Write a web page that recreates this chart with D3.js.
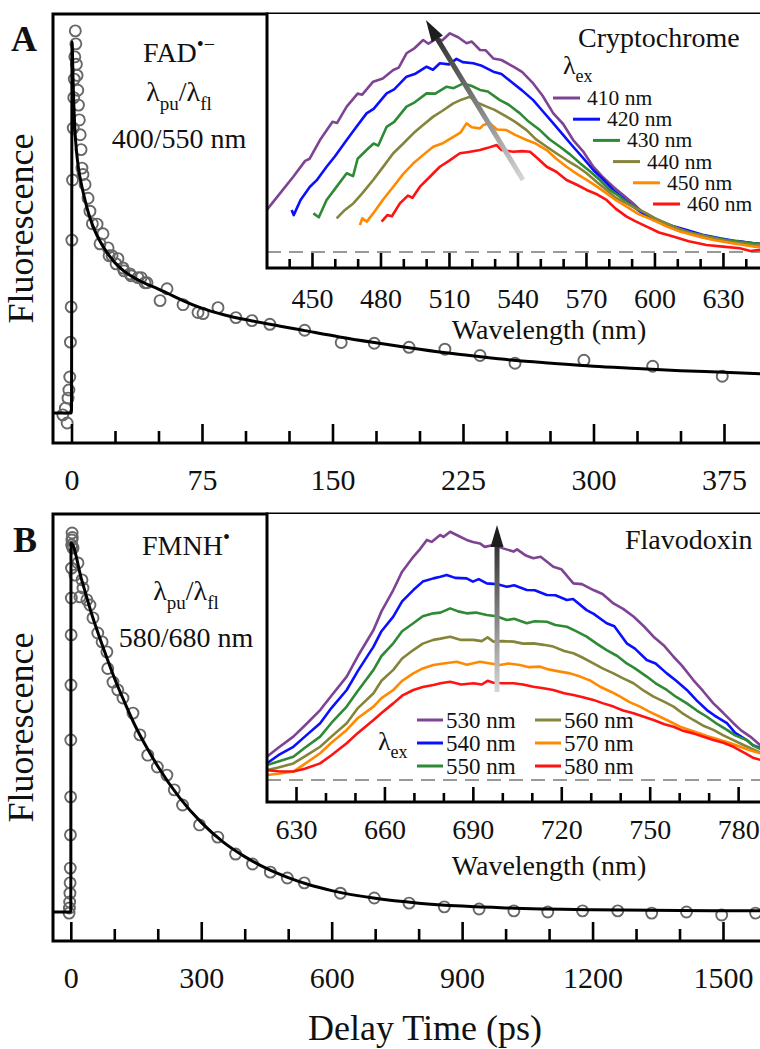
<!DOCTYPE html>
<html>
<head>
<meta charset="utf-8">
<script src="https://d3js.org/d3.v7.min.js"></script>
<style>
  body { margin: 0; background: #fff; }
  svg text { font-family: "Liberation Serif", "Times New Roman", serif; fill: #111; }
</style>
</head>
<body>
<svg id="chart" width="760" height="1049" font-family="Liberation Serif, serif"></svg>
<script>
// ---- panel A : FAD radical anion decay (ps, normalised fluorescence) ----
const decayA = [[-5,-0.005],[-3.5,0.013],[-2.5,-0.027],[-2,0.04],[-1.5,0.062],[-1,0.097],[-0.6,0.191],[-0.2,0.286],
  [0.2,0.466],[0.6,0.628],[1,0.768],[1.3,0.85],[1.6,0.9],[1.9,0.96],[2.2,1.03],[2.5,0.995],[2.8,0.94],[3.2,0.91],
  [3.6,0.87],[4,0.83],[4.5,0.79],[5,0.75],[5.5,0.71],[6,0.66],[6.6,0.643],[7.8,0.616],[9.5,0.579],[10.6,0.544],
  [12,0.51],[14.7,0.509],[16.4,0.456],[18.1,0.483],[21,0.445],[21.6,0.424],[23.3,0.424],[25.6,0.402],[26.7,0.416],
  [29.6,0.391],[30.2,0.383],[33.6,0.375],[34.2,0.37],[38.2,0.365],[40,0.365],[42.2,0.351],[43.4,0.351],[50.9,0.303],
  [54.9,0.335],[64.1,0.292],[72.7,0.271],[75.6,0.268],[84.2,0.284],[94.5,0.257],[103.7,0.249],[114,0.239],[134,0.223],
  [155,0.19],[174,0.188],[194,0.177],[214.6,0.172],[234.8,0.155],[254.9,0.134],[294.5,0.142],[334,0.126],[374,0.099]];
const fitA = [[-12,0],[0,0],[0.3,1.0],[1,0.88],[2,0.76],[3,0.7],[4,0.66],[6,0.61],[8,0.57],[10,0.535],[12.4,0.503],
  [15,0.475],[18,0.45],[22,0.422],[26,0.4],[30,0.383],[35,0.367],[42,0.35],[50,0.334],[55,0.323],[64,0.303],[74,0.284],
  [88,0.264],[104,0.248],[120,0.234],[134,0.222],[154,0.205],[174,0.19],[194,0.176],[214,0.163],[234,0.152],[254,0.142],
  [276,0.134],[300,0.126],[325,0.12],[350,0.114],[375,0.11],[400,0.105]];
const ticksA = [0, 75, 150, 225, 300, 375];
const minorA = [25, 50, 100, 125, 175, 200, 250, 275, 325, 350];

// ---- panel B : FMNH radical decay ----
const decayB = [[-4,-0.003],[-3.2,0.011],[-2.6,0.027],[-2,0.051],[-1.6,0.079],[-1.2,0.119],[-0.8,0.209],[-0.4,0.312],
  [0,0.466],[0.4,0.615],[0.8,0.751],[1.2,0.851],[1.6,0.932],[2,0.995],[2.5,1.008],[3,1.027],[3.5,1.015],[4,0.99],
  [5,0.986],[9.6,0.913],[16.5,0.946],[21,0.854],[25.7,0.9],[28,0.878],[37,0.846],[44,0.832],[51,0.797],[62,0.756],
  [72,0.732],[83,0.705],[85,0.66],[97,0.623],[108,0.602],[120,0.58],[143,0.539],[159,0.48],[177,0.425],[199,0.393],
  [221,0.371],[238,0.331],[257,0.29],[296,0.236],[338,0.203],[379,0.157],[418,0.13],[459,0.108],[498,0.092],[537,0.079],
  [620,0.051],[698,0.038],[778,0.024],[859,0.014],[939,0.008],[1019,0.003],[1097,0.0],[1177,0.003],[1258,0.003],
  [1336,-0.003],[1416,0.0],[1497,-0.008],[1575,-0.003]];
const fitB = [[-45,0],[0,0],[0.5,1.0],[25,0.9],[50,0.8],[75,0.715],[100,0.635],[125,0.565],[150,0.5],[175,0.445],
  [200,0.395],[250,0.31],[300,0.243],[350,0.19],[400,0.15],[450,0.118],[500,0.093],[550,0.073],[600,0.058],[700,0.037],
  [800,0.024],[900,0.016],[1000,0.011],[1200,0.006],[1400,0.004],[1600,0.003]];
const ticksB = [0, 300, 600, 900, 1200, 1500];
const minorB = [100, 200, 400, 500, 700, 800, 1000, 1100, 1300, 1400];

// ---- inset A : cryptochrome emission spectra ----
const cryptoEx = ["410 nm", "420 nm", "430 nm", "440 nm", "450 nm", "460 nm"];
const crypto410 = [[430.2,0.194],[436,0.27],[441.8,0.347],[447,0.42],[449,0.43],[453.5,0.516],[459,0.6],[461,0.595],
  [465.2,0.67],[470,0.73],[472,0.725],[476.8,0.785],[481,0.8],[485.6,0.839],[488,0.85],[491.4,0.916],[495,0.94],
  [498.7,0.977],[501,0.96],[504.6,0.985],[507,0.975],[510.4,1.008],[514,0.99],[517.7,0.962],[520,0.97],[523.6,0.931],
  [526,0.93],[529.4,0.892],[533,0.885],[538.2,0.854],[542,0.83],[546.9,0.777],[551,0.72],[555.7,0.639],[560,0.59],
  [564.4,0.516],[569,0.46],[573.2,0.393],[577,0.35],[581.9,0.301],[586,0.265],[590.7,0.224],[595,0.18],[599.5,0.147],
  [604,0.13],[609.7,0.101],[614,0.09],[619.9,0.071],[625,0.06],[631.6,0.047],[637,0.05],[643.3,0.04],[648,0.035]];
const crypto420 = [[441.1,0.194],[442,0.17],[445,0.24],[449.1,0.301],[452,0.33],[456.4,0.393],[460,0.44],[465.2,0.516],
  [469,0.57],[473.9,0.639],[477,0.66],[482.7,0.731],[486,0.75],[491.4,0.808],[495,0.82],[500.2,0.854],[503,0.84],
  [506,0.87],[510,0.865],[513.3,0.89],[516,0.875],[520.6,0.87],[524,0.86],[529.4,0.831],[533,0.82],[538.2,0.777],
  [542,0.745],[546.9,0.7],[551,0.65],[555.7,0.593],[560,0.54],[564.4,0.485],[569,0.43],[573.2,0.378],[577,0.34],
  [581.9,0.286],[586,0.25],[590.7,0.209],[596,0.17],[602.4,0.14],[608,0.12],[614.1,0.101],[621,0.08],[628.7,0.063],
  [636,0.05],[643.3,0.04],[648,0.036]];
const crypto430 = [[450.6,0.178],[453,0.16],[456.4,0.24],[460,0.29],[465.2,0.363],[468,0.35],[470,0.43],[473.9,0.47],
  [477,0.5],[479,0.49],[482.7,0.577],[486,0.6],[491.4,0.67],[495,0.69],[500.2,0.731],[504,0.73],[509,0.762],[512,0.755],
  [516.3,0.777],[520,0.765],[523.6,0.747],[527,0.74],[532.3,0.7],[536,0.68],[541.1,0.639],[545,0.6],[549.8,0.562],
  [554,0.52],[558.6,0.485],[563,0.45],[567.4,0.409],[572,0.37],[576.1,0.332],[580,0.29],[584.9,0.255],[589,0.22],
  [593.6,0.194],[599,0.16],[605.3,0.132],[611,0.105],[617,0.086],[624,0.07],[631.6,0.055],[637,0.048],[643.3,0.04],
  [648,0.036]];
const crypto440 = [[460.8,0.155],[464,0.19],[468.1,0.224],[472,0.27],[476.8,0.332],[481,0.39],[485.6,0.455],[490,0.5],
  [494.4,0.547],[498,0.58],[503.1,0.624],[507,0.65],[511.9,0.685],[515,0.7],[519.2,0.716],[522,0.69],[526.5,0.67],
  [530,0.655],[535.2,0.624],[539,0.6],[544,0.562],[548,0.52],[552.8,0.485],[557,0.455],[561.5,0.424],[566,0.395],
  [570.3,0.363],[575,0.32],[579,0.286],[583,0.25],[587.8,0.224],[592,0.2],[596.6,0.178],[602,0.145],[608.2,0.117],
  [615,0.09],[622.8,0.071],[632,0.05],[643.3,0.032],[648,0.03]];
const crypto450 = [[471,0.124],[472,0.155],[474,0.14],[476.8,0.178],[481,0.24],[485.6,0.301],[490,0.36],[494.4,0.409],
  [499,0.45],[503.1,0.485],[507,0.5],[511.9,0.531],[515,0.55],[517.7,0.593],[520,0.575],[523.6,0.57],[525,0.585],
  [527.9,0.593],[531,0.565],[535.2,0.562],[539,0.54],[544,0.516],[548,0.5],[552.8,0.47],[557,0.43],[561.5,0.393],
  [566,0.36],[570.3,0.332],[575,0.3],[579,0.27],[583,0.24],[587.8,0.209],[593,0.175],[599.5,0.147],[605,0.12],
  [611.2,0.094],[618,0.075],[625.8,0.055],[634,0.04],[643.3,0.025],[648,0.022]];
const crypto460 = [[480.5,0.14],[483,0.17],[485,0.165],[488.5,0.224],[492,0.26],[494,0.25],[497.3,0.301],[501,0.34],
  [506,0.393],[510,0.42],[514.8,0.455],[518,0.46],[523.6,0.47],[527,0.48],[530.9,0.493],[533,0.47],[538.2,0.462],
  [542,0.465],[545.5,0.462],[549,0.43],[552.8,0.393],[557,0.37],[561.5,0.332],[566,0.31],[570.3,0.286],[575,0.265],
  [579,0.24],[583,0.2],[587.8,0.163],[592,0.14],[596.6,0.117],[602,0.09],[608.2,0.071],[615,0.05],[622.8,0.032],
  [630,0.025],[637.4,0.017],[642,0.005],[648,0.012]];
const cryptoTicks = [450, 480, 510, 540, 570, 600, 630];
const cryptoMinor = [440, 460, 470, 490, 500, 520, 530, 550, 560, 580, 590, 610, 620, 640];

// ---- inset B : flavodoxin emission spectra ----
const flavoEx = ["530 nm", "540 nm", "550 nm", "560 nm", "570 nm", "580 nm"];
const flavo530 = [[620.1,0.094],[624,0.13],[629.1,0.175],[633,0.22],[638.2,0.282],[642,0.34],[647.2,0.417],
  [651,0.5],[656.3,0.605],[659,0.68],[663,0.766],[666,0.84],[669.8,0.9],[672,0.93],[674.4,0.968],[676,0.96],
  [678.9,0.988],[680,0.98],[682.3,1.001],[685,0.985],[687.9,0.968],[690,0.96],[692.4,0.954],[694,0.94],[697,0.948],
  [700,0.935],[703.8,0.921],[705,0.93],[708,0.905],[710.5,0.894],[713,0.9],[717.3,0.86],[720,0.85],[724.1,0.793],
  [727,0.79],[730.9,0.766],[734,0.75],[737.7,0.712],[741,0.69],[744.5,0.659],[748,0.62],[751.3,0.578],[755,0.54],
  [758.1,0.497],[761,0.46],[764.8,0.403],[768,0.36],[771.6,0.309],[775,0.27],[778.4,0.229],[781,0.2],[784.1,0.175],
  [788.5,0.13]];
const flavo540 = [[620.1,0.067],[624,0.1],[629.1,0.134],[633,0.175],[638.2,0.229],[642,0.29],[647.2,0.363],
  [651,0.44],[656.3,0.538],[659,0.6],[663,0.659],[666,0.72],[669.8,0.766],[673,0.8],[676.6,0.813],[679,0.82],
  [681.1,0.827],[684,0.815],[687.9,0.813],[690,0.8],[692,0.81],[694.7,0.793],[698,0.79],[701.5,0.779],[704,0.785],
  [708.3,0.766],[711,0.765],[715.1,0.746],[718,0.745],[721.9,0.726],[724,0.73],[728.6,0.685],[731,0.67],[735.4,0.632],
  [738,0.62],[742.2,0.551],[745,0.53],[749,0.484],[752,0.47],[755.8,0.43],[759,0.4],[762.6,0.363],[766,0.32],
  [769.4,0.282],[772,0.26],[776.2,0.229],[779,0.19],[782.9,0.161],[785,0.14],[788.5,0.125]];
const flavo550 = [[620.1,0.06],[624,0.075],[629.1,0.094],[633,0.13],[638.2,0.175],[642,0.23],[647.2,0.296],
  [651,0.36],[656.3,0.444],[659,0.5],[663,0.551],[666,0.6],[669.8,0.632],[673,0.66],[676.6,0.672],[679,0.675],
  [682.3,0.692],[685,0.68],[687.9,0.672],[691,0.675],[694.7,0.665],[698,0.66],[701.5,0.645],[704,0.65],[708.3,0.632],
  [711,0.64],[715.1,0.638],[718,0.625],[721.9,0.618],[725,0.6],[728.6,0.578],[732,0.55],[735.4,0.524],[739,0.5],
  [742.2,0.47],[745,0.45],[749,0.417],[752,0.39],[755.8,0.363],[759,0.335],[762.6,0.309],[766,0.28],[769.4,0.255],
  [773,0.225],[776.2,0.202],[779,0.18],[782.9,0.161],[785,0.14],[788.5,0.12]];
const flavo560 = [[620.1,0.04],[624,0.05],[629.1,0.067],[633,0.095],[638.2,0.134],[642,0.175],[647.2,0.229],
  [651,0.29],[656.3,0.35],[659,0.4],[663,0.444],[666,0.49],[669.8,0.524],[673,0.55],[676.6,0.565],[679,0.57],
  [682.3,0.578],[686,0.565],[690.2,0.565],[693,0.56],[695,0.575],[697,0.558],[700,0.56],[703.8,0.558],[707,0.55],
  [710.5,0.551],[714,0.545],[717.3,0.538],[721,0.52],[724.1,0.511],[727,0.495],[730.9,0.47],[734,0.45],[737.7,0.43],
  [741,0.41],[744.5,0.39],[748,0.36],[751.3,0.336],[755,0.315],[758.1,0.296],[761,0.27],[764.8,0.242],[768,0.22],
  [771.6,0.202],[775,0.18],[778.4,0.161],[782,0.14],[788.5,0.105]];
const flavo570 = [[620.1,0.02],[624,0.025],[629.1,0.034],[633,0.065],[638.2,0.108],[642,0.15],[647.2,0.202],
  [651,0.25],[656.3,0.296],[659,0.33],[663,0.363],[666,0.4],[669.8,0.43],[673,0.45],[676.6,0.464],[680,0.47],
  [684.5,0.477],[688,0.465],[692.4,0.477],[696,0.47],[699.2,0.464],[702,0.47],[706,0.464],[709,0.455],[712.8,0.457],
  [716,0.445],[719.6,0.437],[723,0.43],[726.4,0.417],[730,0.4],[733.2,0.376],[737,0.355],[740,0.336],[743,0.315],
  [746.7,0.296],[750,0.275],[753.5,0.255],[757,0.235],[760.3,0.215],[764,0.2],[767.1,0.188],[770,0.175],[773.9,0.161],
  [777,0.15],[780.7,0.134],[784,0.12],[788.5,0.105]];
const flavo580 = [[620.1,0.04],[624,0.035],[629.1,0.034],[633,0.045],[638.2,0.067],[642,0.1],[647.2,0.148],
  [651,0.19],[656.3,0.242],[659,0.27],[663,0.309],[666,0.34],[669.8,0.363],[673,0.375],[676.6,0.383],[679,0.39],
  [682.3,0.396],[686,0.385],[690.2,0.39],[693,0.385],[695,0.4],[697,0.392],[700,0.39],[703.8,0.39],[707,0.385],
  [710.5,0.376],[714,0.37],[717.3,0.363],[721,0.35],[724.1,0.343],[727,0.335],[730.9,0.323],[734,0.31],[737.7,0.296],
  [741,0.28],[744.5,0.269],[748,0.255],[751.3,0.242],[755,0.225],[758.1,0.215],[761,0.2],[764.8,0.188],[768,0.175],
  [771.6,0.161],[775,0.15],[778.4,0.134],[782,0.11],[785,0.09],[788.5,0.078]];
const flavoTicks = [630, 660, 690, 720, 750, 780];
const flavoMinor = [640, 650, 670, 680, 700, 710, 730, 740, 760, 770];

const specColors = ["#7f4393", "#0a10ff", "#2f8a35", "#84843a", "#ff8a00", "#ff1212"];
const serif = "Liberation Serif, Times New Roman, serif";

const svg = d3.select("#chart");
const defs = svg.append("defs");

function ticks(g, x, y0, major, minor, majLen, minLen, pad, fs) {
  g.append("g").attr("transform", `translate(0,${y0})`)
    .call(d3.axisBottom(x).tickValues(minor).tickSizeInner(-minLen).tickSizeOuter(0).tickFormat(""))
    .call(a => a.select(".domain").remove())
    .call(a => a.selectAll("line").attr("stroke", "#000").attr("stroke-width", 2.6));
  g.append("g").attr("transform", `translate(0,${y0})`)
    .call(d3.axisBottom(x).tickValues(major).tickFormat(d3.format("d"))
      .tickSizeInner(-majLen).tickSizeOuter(0).tickPadding(pad))
    .attr("font-family", serif)
    .call(a => a.select(".domain").remove())
    .call(a => a.selectAll("line").attr("stroke", "#000").attr("stroke-width", 2.6))
    .call(a => a.selectAll("text").attr("font-size", fs).attr("font-family", serif));
}

function mainPanel(p) {
  const g = svg.append("g");
  const x = d3.scaleLinear().domain(p.xDom).range([p.left, p.right]);
  const y = d3.scaleLinear().domain(p.yDom).range([p.bottom, p.top]);
  defs.append("clipPath").attr("id", "clip" + p.id).append("rect")
    .attr("x", p.left).attr("y", p.top).attr("width", p.right - p.left).attr("height", p.bottom - p.top);
  const plot = g.append("g").attr("clip-path", `url(#clip${p.id})`);
  plot.append("g").selectAll("circle").data(p.data).join("circle")
    .attr("cx", d => x(d[0])).attr("cy", d => y(d[1])).attr("r", 5.5)
    .attr("fill", "none").attr("stroke", "#686868").attr("stroke-width", 1.9);
  plot.append("path").datum(p.fit)
    .attr("d", d3.line().x(d => x(d[0])).y(d => y(d[1])).curve(d3.curveMonotoneX))
    .attr("fill", "none").attr("stroke", "#000").attr("stroke-width", 3);
  ticks(g, x, p.bottom, p.major, p.minor, 19, 12, 26, 30);
  g.append("path").attr("d", `M${p.left},${p.bottom}H${p.right}M${p.left},${p.bottom}V${p.top}H${p.right}`)
    .attr("fill", "none").attr("stroke", "#000").attr("stroke-width", 3).attr("stroke-linecap", "square");
  g.append("text").attr("transform", `translate(33,${(p.top + p.bottom) / 2}) rotate(-90)`)
    .attr("text-anchor", "middle").attr("font-size", 36).attr("font-family", serif).text("Fluorescence");
  g.append("text").attr("x", p.letterX).attr("y", p.letterY).attr("font-size", 36)
    .attr("font-family", serif).attr("font-weight", "bold").text(p.letter);
  return g;
}

function inset(p) {
  const g = svg.append("g");
  const x = d3.scaleLinear().domain(p.xDom).range([p.left, p.right]);
  const y = d3.scaleLinear().domain(p.yDom).range([p.bottom, p.top]);
  g.append("rect").attr("x", p.left).attr("y", p.top).attr("width", p.right - p.left)
    .attr("height", p.bottom - p.top).attr("fill", "#fff");
  defs.append("clipPath").attr("id", "clip" + p.id).append("rect")
    .attr("x", p.left).attr("y", p.top).attr("width", p.right - p.left).attr("height", p.bottom - p.top);
  const plot = g.append("g").attr("clip-path", `url(#clip${p.id})`);
  plot.append("line").attr("x1", p.left).attr("x2", p.right).attr("y1", y(0)).attr("y2", y(0))
    .attr("stroke", "#999").attr("stroke-width", 2).attr("stroke-dasharray", "14,8");
  p.series.forEach((s, i) => {
    plot.append("path").datum(s)
      .attr("d", d3.line().x(d => x(d[0])).y(d => y(d[1])))
      .attr("fill", "none").attr("stroke", specColors[i]).attr("stroke-width", 2.6)
      .attr("stroke-linejoin", "round");
  });
  // gradient arrow
  const [x0, y0] = [x(p.arrow[0][0]), y(p.arrow[0][1])];
  const [x1, y1] = [x(p.arrow[1][0]), y(p.arrow[1][1])];
  const grad = defs.append("linearGradient").attr("id", "grad" + p.id)
    .attr("gradientUnits", "userSpaceOnUse").attr("x1", x0).attr("y1", y0).attr("x2", x1).attr("y2", y1);
  grad.append("stop").attr("offset", 0).attr("stop-color", "#d6d6d6");
  grad.append("stop").attr("offset", 1).attr("stop-color", "#1e1e1e");
  const len = Math.hypot(x1 - x0, y1 - y0), ux = (x1 - x0) / len, uy = (y1 - y0) / len;
  const hl = 22, hw = 6.5;
  const bx = x1 - ux * hl, by = y1 - uy * hl;
  plot.append("line").attr("x1", x0).attr("y1", y0).attr("x2", bx).attr("y2", by)
    .attr("stroke", `url(#grad${p.id})`).attr("stroke-width", 5);
  plot.append("path")
    .attr("d", `M${x1},${y1}L${bx - uy * hw},${by + ux * hw}L${bx + uy * hw},${by - ux * hw}Z`)
    .attr("fill", "#1e1e1e");
  ticks(g, x, p.bottom, p.major, p.minor, 15, 9, p.pad, 28);
  g.append("path").attr("d", `M${p.left},${p.top}V${p.bottom}H${p.right}`)
    .attr("fill", "none").attr("stroke", "#000").attr("stroke-width", 3).attr("stroke-linecap", "square");
  g.append("text").attr("x", 549).attr("y", p.titleY).attr("text-anchor", "middle")
    .attr("font-size", 28).attr("font-family", serif).text("Wavelength (nm)");
  return { g, x, y };
}

function lambdaSub(g, x, y, sub) {
  const t = g.append("text").attr("x", x).attr("y", y).attr("font-size", 26).attr("font-family", serif);
  t.append("tspan").text("λ");
  t.append("tspan").attr("font-size", 18).attr("dy", 8).text(sub);
  return t;
}

function probeLabel(g, cx, y1, name, sup, y2, y3, pair) {
  const t = g.append("text").attr("x", cx).attr("y", y1).attr("text-anchor", "middle")
    .attr("font-size", 28).attr("font-family", serif);
  t.append("tspan").text(name);
  t.append("tspan").attr("font-size", 20).attr("dy", -11).text(sup);
  const l = g.append("text").attr("x", cx).attr("y", y2).attr("text-anchor", "middle")
    .attr("font-size", 28).attr("font-family", serif);
  l.append("tspan").text("λ");
  l.append("tspan").attr("font-size", 19).attr("dy", 9).text("pu");
  l.append("tspan").attr("dy", -9).text("/λ");
  l.append("tspan").attr("font-size", 19).attr("dy", 9).text("fl");
  g.append("text").attr("x", cx).attr("y", y3).attr("text-anchor", "middle")
    .attr("font-size", 28).attr("font-family", serif).text(pair);
}

// ---------- Panel A ----------
const gA = mainPanel({ id: "A", left: 53, right: 762, top: 14, bottom: 443,
  xDom: [-10.63, 396.84], yDom: [-0.0809, 1.0755], data: decayA, fit: fitA,
  major: ticksA, minor: minorA, letter: "A", letterX: 11, letterY: 51 });
probeLabel(gA, 179, 62, "FAD", "•−", 101, 148, "400/550 nm");

const iA = inset({ id: "iA", left: 267, right: 762, top: 14, bottom: 268,
  xDom: [430.3, 647.1], yDom: [-0.0737, 1.097], series: [crypto410, crypto420, crypto430, crypto440, crypto450, crypto460],
  arrow: [[542.4, 0.332], [499.9, 1.069]], major: cryptoTicks, minor: cryptoMinor, pad: 20, titleY: 339 });
iA.g.append("text").attr("x", 578).attr("y", 47).attr("font-size", 28).attr("font-family", serif).text("Cryptochrome");
lambdaSub(iA.g, 563, 74, "ex");
cryptoEx.forEach((lab, i) => {
  const lx = 553 + i * 20, ly = 98 + i * 21.2;
  iA.g.append("line").attr("x1", lx).attr("x2", lx + 27).attr("y1", ly).attr("y2", ly)
    .attr("stroke", specColors[i]).attr("stroke-width", 3);
  iA.g.append("text").attr("x", lx + 34).attr("y", ly + 7).attr("font-size", 21.5)
    .attr("font-family", serif).text(lab);
});

// ---------- Panel B ----------
const gB = mainPanel({ id: "B", left: 53, right: 762, top: 514, bottom: 941,
  xDom: [-40.94, 1589.7], yDom: [-0.0786, 1.0786], data: decayB, fit: fitB,
  major: ticksB, minor: minorB, letter: "B", letterX: 13, letterY: 552 });
probeLabel(gB, 186, 555, "FMNH", "•", 600, 647, "580/680 nm");

const iB = inset({ id: "iB", left: 267, right: 762, top: 514, bottom: 802,
  xDom: [620.16, 788.1], yDom: [-0.0887, 1.0726], series: [flavo530, flavo540, flavo550, flavo560, flavo570, flavo580],
  arrow: [[698.2, 0.355], [698.2, 1.028]], major: flavoTicks, minor: flavoMinor, pad: 17, titleY: 875 });
iB.g.append("text").attr("x", 625).attr("y", 549).attr("font-size", 28).attr("font-family", serif).text("Flavodoxin");
lambdaSub(iB.g, 378, 750, "ex");
flavoEx.forEach((lab, i) => {
  const col = Math.floor(i / 3), row = i % 3;
  const lx = col ? 535 : 417, ly = 720 + row * 23;
  iB.g.append("line").attr("x1", lx).attr("x2", lx + 26).attr("y1", ly).attr("y2", ly)
    .attr("stroke", specColors[i]).attr("stroke-width", 3);
  iB.g.append("text").attr("x", lx + 29).attr("y", ly + 8).attr("font-size", 23)
    .attr("font-family", serif).text(lab);
});

svg.append("text").attr("x", 425).attr("y", 1040).attr("text-anchor", "middle")
  .attr("font-size", 36).attr("font-family", serif).text("Delay Time (ps)");
</script>
</body>
</html>
